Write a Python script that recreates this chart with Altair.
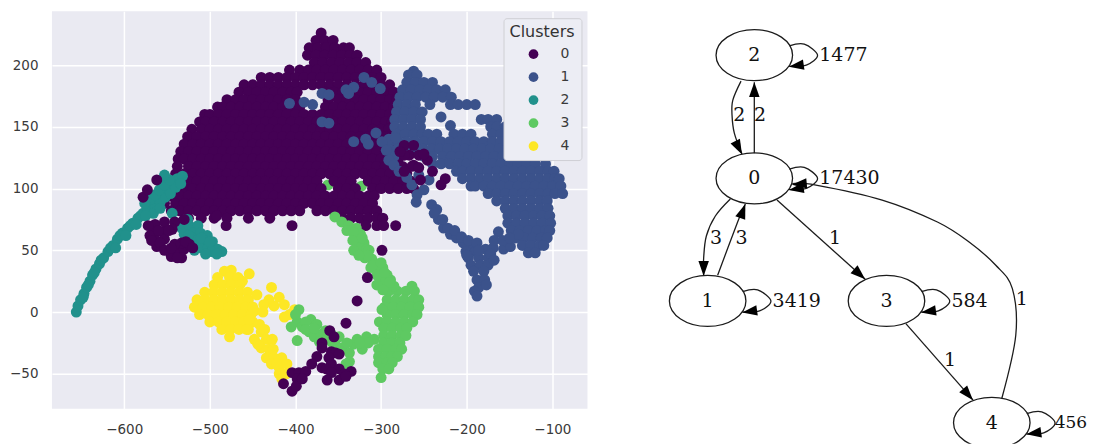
import altair as alt
import pandas as pd

# ---------- scatter values: (PC2 row, [PC1 values]) ----------
green_under = [(-362, 103), (-323, 102)]
purple_rows = [
    (226, [-370]),
    (220, [-376, -366, -356]),
    (214, [-384, -374, -364, -354, -344, -337]),
    (208, [-386, -376, -366, -356, -346, -336, -328]),
    (202, [-378, -368, -358, -348, -338, -328, -318]),
    (196, [-407, -395, -385, -375, -365, -355, -345, -335, -325, -315, -305]),
    (190, [-440, -430, -420, -410, -400, -390, -380, -370, -360, -350, -340, -330, -320, -310, -300]),
    (184, [-460, -450, -440, -430, -420, -410, -400, -390, -380, -370, -360, -350, -340, -330, -320, -310, -300, -290]),
    (178, [-466, -455, -445, -435, -425, -415, -405, -398, -365, -355, -345, -335, -325, -315, -305, -295, -285]),
    (172, [-480, -470, -460, -450, -440, -430, -420, -410, -400, -362, -350, -340, -330, -320, -310, -300, -290, -282]),
    (166, [-491, -485, -475, -465, -455, -445, -435, -425, -415, -405, -395, -365, -355, -345, -335, -325, -315, -305, -295, -285]),
    (160, [-506, -500, -490, -480, -470, -460, -450, -440, -430, -420, -410, -400, -390, -380, -370, -360, -350, -340, -330, -320, -310, -300, -290]),
    (154, [-512, -505, -495, -485, -475, -465, -455, -445, -435, -425, -415, -405, -395, -385, -375, -365, -355, -345, -335, -325, -315, -305, -295, -287]),
    (148, [-521, -510, -500, -490, -480, -470, -460, -450, -440, -430, -420, -410, -400, -390, -380, -370, -360, -350, -340, -330, -320, -310, -300, -291]),
    (142, [-526, -515, -505, -495, -485, -475, -465, -455, -445, -435, -425, -415, -405, -395, -385, -375, -365, -355, -345, -335, -325, -315, -305, -295]),
    (136, [-530, -520, -510, -500, -490, -480, -470, -460, -450, -440, -430, -420, -410, -400, -390, -380, -370, -360, -350, -340, -330, -320, -310, -300, -290, -280]),
    (130, [-534, -525, -515, -505, -495, -485, -475, -465, -455, -445, -435, -425, -415, -405, -395, -385, -375, -365, -355, -345, -335, -325, -315, -305, -295, -285, -275]),
    (124, [-537, -530, -520, -510, -500, -490, -480, -470, -460, -450, -440, -430, -420, -410, -400, -390, -380, -370, -360, -350, -340, -330, -320, -310, -300, -290, -280]),
    (118, [-538, -525, -515, -505, -495, -485, -475, -465, -455, -445, -435, -425, -415, -405, -395, -385, -375, -365, -355, -345, -335, -325, -315, -305, -295, -285, -275]),
    (112, [-540, -530, -520, -510, -500, -490, -480, -470, -460, -450, -440, -430, -420, -410, -400, -390, -380, -370, -360, -350, -340, -330, -320, -310, -300, -290, -280, -270]),
    (106, [-547, -535, -525, -515, -505, -495, -485, -475, -465, -455, -445, -435, -425, -415, -405, -395, -385, -375, -355, -345, -335, -315, -305, -295, -285, -275, -265]),
    (100, [-550, -540, -530, -520, -510, -500, -490, -480, -470, -460, -450, -440, -430, -420, -410, -400, -390, -380, -370, -350, -340, -330, -310, -300, -290, -280, -270, -262]),
    (94, [-553, -545, -535, -525, -515, -505, -495, -485, -475, -465, -455, -445, -435, -425, -415, -405, -395, -385, -375, -365, -355, -345, -335, -325, -315, -308]),
    (88, [-553, -540, -530, -520, -510, -500, -490, -480, -470, -460, -450, -440, -430, -420, -410, -400, -390, -380, -370, -360, -350, -340, -330, -320, -310]),
    (82, [-545, -535, -525, -515, -505, -495, -485, -475, -465, -455, -445, -435, -425, -415, -405, -395, -375, -365, -355, -345, -335, -325, -315, -305]),
    (76, [-525, -510, -495, -480, -455, -430, -345, -335, -325, -315, -305, -298]),
    (70, [-318, -305, -297, -283, -481, -404]),
]
blue_rows = [
    (195, [-262]),
    (192, [-268, -258]),
    (186, [-270, -260, -250, -240]),
    (180, [-275, -265, -255, -245, -235, -225]),
    (174, [-278, -268, -258, -248, -238, -228, -218]),
    (168, [-280, -270, -260, -243, -219, -210, -200, -190]),
    (162, [-282, -272, -262, -252]),
    (158, [-230]),
    (156, [-284, -274, -264, -254, -183, -175, -165]),
    (151, [-219]),
    (150, [-284, -274, -264, -254, -172, -165, -155]),
    (144, [-282, -272, -262, -252, -245, -235, -215, -205, -195, -170, -160, -150, -140]),
    (138, [-290, -280, -270, -260, -250, -240, -230, -220, -210, -200, -190, -180, -170, -160, -150, -140, -130]),
    (132, [-291, -281, -271, -261, -251, -241, -232, -222, -212, -202, -192, -182, -172, -162, -152, -142, -132]),
    (126, [-285, -250, -240, -228, -218, -208, -198, -188, -178, -168, -158, -148, -138, -128, -120]),
    (120, [-240, -230, -220, -210, -200, -190, -180, -170, -160, -150, -140, -130, -120, -108]),
    (114, [-212, -205, -195, -185, -175, -165, -155, -145, -135, -125, -115, -105, -98]),
    (108, [-205, -195, -185, -175, -165, -155, -145, -135, -125, -115, -105, -97, -92]),
    (102, [-195, -190, -180, -170, -160, -150, -140, -130, -120, -110, -100, -90]),
    (96, [-175, -165, -155, -145, -135, -125, -115, -105, -97, -88]),
    (90, [-165, -155, -145, -135, -125, -115, -106]),
    (84, [-155, -145, -135, -125, -115, -105]),
    (78, [-152, -142, -132, -122, -112, -103]),
    (72, [-152, -142, -132, -122, -112, -102]),
    (66, [-148, -138, -128, -118, -108, -103]),
    (60, [-143, -133, -123, -113, -106]),
    (54, [-135, -125, -115, -110]),
    (48, [-128, -120]),
]
blue_extra = [
    (-320, 190), (-311, 186), (-301, 181), (-332, 182), (-341, 180), (-338, 177),
    (-369, 154), (-361, 153), (-332, 138), (-318, 140), (-306, 145), (-291, 140), (-283, 141),
    (-315, 136), (-299, 138), (-380, 168), (-369, 177), (-390, 170), (-361, 176), (-407, 169),
    (-294, 131), (-291, 123), (-285, 119), (-279, 114), (-270, 109), (-264, 103), (-258, 95),
    (-259, 89), (-250, 99), (-244, 107), (-256, 111),
    (-241, 87), (-235, 83), (-233, 75), (-227, 68), (-219, 63), (-212, 60), (-204, 56),
    (-195, 53), (-201, 49), (-190, 49), (-178, 51), (-169, 52), (-198, 44), (-186, 44),
    (-175, 44), (-195, 38), (-184, 38), (-175, 38), (-192, 33), (-180, 33), (-188, 26),
    (-179, 26), (-186, 20), (-177, 22), (-191, 17), (-188, 13), (-163, 65), (-168, 58),
    (-157, 51), (-149, 53), (-140, 63),
    (-238, 80), (-228, 75), (-222, 68), (-214, 66), (-206, 61), (-198, 58), (-188, 56), (-172, 47),
    (-200, 46), (-168, 42), (-186, 50), (-158, 58), (-150, 60),
]
teal_points = [
    (-656, 0), (-654, 5), (-651, 10), (-647, 15), (-644, 20), (-640, 25), (-637, 30), (-633, 35),
    (-629, 39), (-624, 44), (-619, 49), (-613, 54), (-608, 59), (-602, 64), (-596, 68), (-590, 72),
    (-584, 76), (-578, 80), (-573, 84), (-567, 88), (-561, 92), (-555, 96), (-549, 100), (-544, 104),
    (-538, 108), (-532, 110), (-563, 85), (-558, 89), (-552, 93), (-546, 96), (-540, 101), (-534, 104),
    (-570, 91), (-564, 95), (-559, 99), (-553, 103), (-547, 107), (-553, 111),
    (-533, 68), (-524, 70), (-514, 70), (-530, 63), (-520, 64), (-511, 64), (-503, 62), (-516, 58),
    (-506, 58), (-497, 57), (-524, 55), (-512, 52), (-502, 52), (-491, 51), (-486, 49), (-498, 49),
    (-544, 80),
    (-648, 12), (-642, 22), (-635, 32), (-627, 42), (-616, 52), (-605, 62), (-593, 70), (-581, 78),
    (-576, 88), (-566, 80), (-558, 84), (-575, 78), (-586, 71), (-598, 62), (-610, 52),
    (-525, 62), (-510, 60), (-500, 57), (-518, 50), (-505, 47), (-492, 47), (-536, 72), (-526, 75),
]
purple_over = [
    (-564, 71), (-553, 73), (-541, 73), (-530, 75), (-566, 65), (-555, 65), (-544, 67), (-564, 59),
    (-553, 59), (-562, 53), (-547, 49), (-538, 49), (-530, 51), (-533, 56), (-524, 55), (-541, 55),
    (-545, 45), (-533, 44), (-562, 107), (-578, 93), (-573, 99), (-492, 78),
    (-572, 70), (-570, 62), (-560, 66), (-548, 66), (-568, 58), (-558, 56), (-553, 50), (-545, 52),
    (-528, 57), (-520, 52), (-538, 44),
]
yellow_rows = [
    (34, [-475]), (33, [-483]), (31, [-454]), (28, [-491, -477, -467]), (25, [-462]),
    (22, [-495, -485, -475, -465]),
    (16, [-506, -496, -486, -476, -466, -456]),
    (10, [-515, -505, -495, -485, -475, -465, -455]),
    (4, [-518, -508, -498, -488, -478, -468, -458, -450]),
    (-2, [-512, -502, -492, -482, -472, -462, -452]),
    (-8, [-500, -490, -480, -470, -460, -450]),
    (-14, [-486, -476, -466, -455]),
    (-20, [-477]),
]
yellow_extra = [
    (-445, 14), (-428, 20), (-431, 10), (-419, 12), (-437, 6), (-425, 5), (-413, 6), (-401, 2),
    (-407, -2), (-413, -4), (-448, 1), (-454, -6), (-442, -10), (-457, -14), (-448, -22), (-440, -16),
    (-434, -22), (-427, -22), (-440, -29), (-431, -30), (-434, -37), (-425, -37), (-416, -37),
    (-428, -42), (-419, -45), (-410, -42), (-419, -50), (-411, -50), (-416, -54),
    (-444, -26), (-426, -30), (-422, -42), (-436, -14), (-438, 0),
]
green_rows = [
    (21, [-264]),
    (17, [-291, -281, -271, -261]),
    (10, [-293, -283, -273, -263, -256]),
    (4, [-296, -286, -276, -266, -256]),
    (-2, [-293, -283, -273, -263, -258]),
    (-8, [-302, -293, -283, -273, -263]),
    (-13, [-297, -287, -277, -270]),
    (-19, [-297, -287, -277, -271]),
    (-25, [-297, -288, -278]),
    (-30, [-303, -293, -283, -276]),
    (-36, [-303, -295, -288, -281]),
    (-41, [-303, -293, -287]),
    (-46, [-298, -291]),
    (-53, [-300]),
]
green_extra = [
    (-354, 77), (-346, 73), (-338, 70), (-329, 68), (-324, 63), (-328, 59), (-320, 56), (-325, 52),
    (-317, 51), (-319, 44), (-311, 43), (-305, 39), (-312, 36), (-298, 36), (-303, 33), (-293, 30),
    (-297, 25), (-289, 26), (-285, 21), (-299, 2),
    (-396, 2), (-398, -8), (-405, -12), (-392, -12), (-382, -6), (-375, -10), (-384, -16), (-378, -20),
    (-370, -18), (-364, -22), (-372, -24), (-358, -24), (-349, -20), (-346, -29), (-337, -33), (-332, -26),
    (-322, -30), (-317, -20), (-308, -22), (-337, -40), (-341, -42), (-398, -23),
    (-340, 66), (-332, 64), (-333, 58), (-322, 60), (-332, 50), (-314, 50), (-316, 46), (-326, 46),
    (-310, 38), (-300, 40), (-305, 30), (-296, 32), (-290, 24), (-305, 22), (-298, 18),
    (-400, -2), (-388, -8), (-388, -14), (-378, -13), (-365, -15), (-358, -18), (-353, -27), (-340, -25),
    (-328, -22), (-315, -25), (-325, -25),
]
purple_top = [
    (-273, 135), (-262, 135), (-267, 127), (-256, 127), (-246, 123), (-262, 119), (-273, 127),
    (-264, 118), (-273, 114), (-254, 107), (-240, 114), (-225, 108), (-230, 103), (-278, 130),
    (-250, 128), (-256, 117),
    (-414, -58), (-404, -64), (-404, -49), (-396, -49), (-388, -48), (-398, -54), (-399, -60), (-392, -54),
    (-369, -25), (-369, -29), (-360, -15), (-355, -20), (-341, -9), (-328, 9), (-316, 28), (-299, 50),
    (-375, -36), (-381, -42), (-369, -45), (-358, -32), (-353, -33), (-361, -37), (-349, -34), (-358, -42),
    (-364, -46), (-349, -46), (-358, -49), (-335, -48), (-343, -50), (-363, -55), (-349, -55), (-341, -52),
]

clusters = ["0", "1", "2", "3", "4"]
colors = ["#440154", "#3b528b", "#21918c", "#5ec962", "#fde725"]
x_ticks = [-600, -500, -400, -300, -200, -100]
y_ticks = [-50, 0, 50, 100, 150, 200]

# ---------- transition graph values ----------
node_names = ["0", "1", "2", "3", "4"]
node_x = [755, 708.3, 755, 887.3, 992.7]
node_y = [178.3, 301, 55, 301, 423]
self_counts = ["17430", "3419", "1477", "584"]
last_count = "456"
loop_dx = [35, 50, 63.3, 52, 34.5]
loop_dy = [-9.3, -11, 0, 10, 11]
loop_arrow = (42, 10.5, 262)

edges = {
    "2-0": [(741.7, 81), (733.5, 100), (732.7, 115), (735, 133), (742.7, 154)],
    "0-2": [(755, 153.3), (755, 82)],
    "0-1": [(731, 199), (716, 216), (707, 236), (704.3, 258), (704.3, 276)],
    "1-0": [(718.3, 275.3), (738.3, 222), (746, 204)],
    "0-3": [(777.7, 200), (866, 279.3)],
    "3-4": [(906.7, 323.7), (974, 400.3)],
    "4-0": [(1002.7, 398.7), (1016.7, 335.3), (1013.3, 288.7), (996.7, 265.3), (970, 242),
            (938.3, 222), (883, 200), (816.7, 185), (793, 183.5)],
}
arrow_x = [755, 739.3, 704.3, 743.5, 860.4, 969, 800]
arrow_y = [89.5, 147.7, 268.5, 211, 274.3, 394.7, 184]
arrow_angle = [0, 153, 180, 20, 132, 139, 265]
edge_label_x = [740, 760.7, 716.7, 742.3, 835.7, 1022.7, 951]
edge_label_y = [115, 115, 237.7, 237.7, 237.7, 299.3, 360.3]
edge_label_text = ["2", "2", "3", "3", "1", "1", "1"]

# ---------- tables ----------
records = []
def add_rows(rows, c):
    for y, xs in rows:
        for x in xs:
            records.append({"x": x, "y": y, "c": c})
def add_pts(pts, c):
    for x, y in pts:
        records.append({"x": x, "y": y, "c": c})

add_pts(green_under, "3")
add_rows(purple_rows, "0")
add_rows(blue_rows, "1")
add_pts(blue_extra, "1")
add_pts(teal_points, "2")
add_pts(purple_over, "0")
add_rows(yellow_rows, "4")
add_pts(yellow_extra, "4")
add_rows(green_rows, "3")
add_pts(green_extra, "3")
add_pts(purple_top, "0")
scatter_df = pd.DataFrame(records)

axis_common = dict(
    grid=True, gridColor="#ffffff", gridWidth=1.5, domain=False, ticks=False, tickSize=0,
    labelFontSize=13.5, labelFont="DejaVu Sans", labelColor="#3a3a3a", title=None, labelPadding=14,
)
scatter = (
    alt.Chart(scatter_df)
    .mark_point(filled=True, size=120, opacity=1, shape="circle")
    .encode(
        x=alt.X("x:Q", scale=alt.Scale(domain=[-684.4, -59], nice=False, zero=False),
                axis=alt.Axis(values=x_ticks, **axis_common)),
        y=alt.Y("y:Q", scale=alt.Scale(domain=[-78.3, 243.6], nice=False, zero=False),
                axis=alt.Axis(values=y_ticks, minExtent=44, maxExtent=44, **axis_common)),
        color=alt.Color(
            "c:N",
            scale=alt.Scale(domain=clusters, range=colors),
            legend=alt.Legend(
                title="Clusters", orient="none", legendX=452, legendY=7,
                fillColor="#ecedf4", strokeColor="#cfcfd4", cornerRadius=3, padding=6,
                titleFont="DejaVu Sans", titleFontSize=16, titleFontWeight="normal", titleColor="#333333",
                titlePadding=6, labelFont="DejaVu Sans", labelFontSize=14, labelColor="#3a3a3a",
                symbolSize=95, symbolType="circle", symbolOpacity=1, symbolOffset=17,
                labelOffset=20, rowPadding=7, clipHeight=16,
            ),
        ),
    )
    .properties(width=536, height=398, view=alt.ViewBackground(fill="#EAEAF2"))
)

# graph layers
gx = alt.X("x:Q", scale=alt.Scale(domain=[650, 1088], nice=False, zero=False), axis=None)
gy = alt.Y("y:Q", scale=alt.Scale(domain=[11, 444], nice=False, zero=False, reverse=True), axis=None)

edge_rows = []
for name, pts in edges.items():
    for i, (x, y) in enumerate(pts):
        edge_rows.append({"edge": name, "i": i, "x": x, "y": y})
for n, nx, ny in zip(node_names, node_x, node_y):
    for i, (dx, dy) in enumerate(zip(loop_dx, loop_dy)):
        edge_rows.append({"edge": "loop" + n, "i": i, "x": nx + dx, "y": ny + dy})
edge_df = pd.DataFrame(edge_rows)

arrows_df = pd.DataFrame({"x": arrow_x, "y": arrow_y, "a": arrow_angle})
loop_arrows = pd.DataFrame({
    "x": [nx + loop_arrow[0] for nx in node_x],
    "y": [ny + loop_arrow[1] for ny in node_y],
    "a": [loop_arrow[2]] * 5,
})
arrows_df = pd.concat([arrows_df, loop_arrows], ignore_index=True)
nodes_df = pd.DataFrame({"x": node_x, "y": node_y, "t": node_names})
counts_df = pd.DataFrame({"x": [nx + 65 for nx in node_x[:4]], "y": node_y[:4], "t": self_counts})
last_df = pd.DataFrame({"x": [node_x[4] + 63], "y": [node_y[4]], "t": [last_count]})
elabels_df = pd.DataFrame({"x": edge_label_x, "y": edge_label_y, "t": edge_label_text})

ink = "#1c1c1c"
edge_layer = alt.Chart(edge_df).mark_line(interpolate="cardinal", color=ink, strokeWidth=1.3).encode(
    x=gx, y=gy, detail="edge:N", order="i:Q")
arrow_layer = alt.Chart(arrows_df).mark_point(
    shape="M0,-1L0.7,1L-0.7,1Z", size=225, filled=True, color="#000000", opacity=1
).encode(x=gx, y=gy, angle=alt.Angle("a:Q", scale=None))
node_layer = alt.Chart(nodes_df).mark_point(
    shape="M-1,0A1,0.667,0,1,1,1,0A1,0.667,0,1,1,-1,0Z", size=5868, filled=False,
    color=ink, strokeWidth=1.3, opacity=1, clip=True
).encode(x=gx, y=gy)
text_style = dict(font="DejaVu Serif", color="#111111", baseline="middle")
node_text = alt.Chart(nodes_df).mark_text(align="center", fontSize=19, **text_style).encode(x=gx, y=gy, text="t:N")
count_text = alt.Chart(counts_df).mark_text(align="left", fontSize=19, **text_style).encode(x=gx, y=gy, text="t:N")
last_text = alt.Chart(last_df).mark_text(align="left", fontSize=17, **text_style).encode(x=gx, y=gy, text="t:N")
edge_text = alt.Chart(elabels_df).mark_text(align="center", fontSize=19, **text_style).encode(x=gx, y=gy, text="t:N")

graph = alt.layer(edge_layer, arrow_layer, node_layer, node_text, count_text, last_text, edge_text).properties(
    width=438, height=433)

chart = (
    alt.hconcat(scatter, graph, spacing=62)
    .resolve_scale(x="independent", y="independent", color="independent")
    .properties(padding={"left": 0, "top": 3, "right": 0, "bottom": 0})
    .configure_view(strokeWidth=0)
)
chart.save("out.html", embed_options={"renderer": "svg", "actions": False})
